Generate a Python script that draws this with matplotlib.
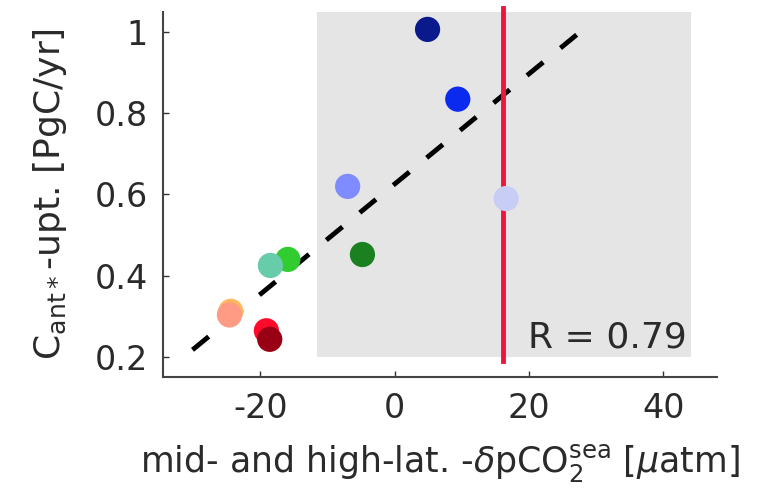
import matplotlib.pyplot as plt
import numpy as np
from matplotlib.patches import Rectangle

plt.rcParams['axes.unicode_minus'] = False

# model points (x: -dpCO2 sea, y: Cant uptake)
x_vals = [4.9, 9.4, -7.0, 16.6, -4.8, -15.9, -18.5, -24.4, -24.6, -19.1, -18.6]
y_vals = [1.007, 0.835, 0.62, 0.59, 0.452, 0.44, 0.425, 0.312, 0.303, 0.264, 0.243]
colors = ['#0a1a8c', '#0a2af0', '#7f8cff', '#c8cdf6', '#1a8020', '#30cc30',
          '#66ccaa', '#ffb860', '#ff9a85', '#ff0a2a', '#9a0014']

fit_x = [-30.1, 28.3]
fit_y = [0.217, 1.01]

obs_x = 16.2
obs_y = [0.19, 1.06]

shade_x = (-11.6, 44.2)
shade_y = (0.2, 1.05)

r_value = 0.79

fig = plt.figure(figsize=(7.63, 4.92), dpi=100)
ax = fig.add_axes([0.2136, 0.2337, 0.7261, 0.742])

ax.add_patch(Rectangle((shade_x[0], shade_y[0]), shade_x[1] - shade_x[0],
                       shade_y[1] - shade_y[0], facecolor='#e5e5e5',
                       edgecolor='none', zorder=0))
ax.plot(fit_x, fit_y, '--', color='black', linewidth=3.5, dashes=(4.3, 4.6), zorder=2)
ax.plot([obs_x, obs_x], obs_y, '-', color='#f0143c', linewidth=3.5, zorder=3,
        clip_on=False)
ax.scatter(x_vals, y_vals, s=330, c=colors, edgecolors='none', zorder=4)

ax.text(43.5, 0.206, f'R = {r_value}', fontsize=26, ha='right', va='bottom',
        color='#2a2a2a', zorder=5)

ax.set_xlim(-34.5, 48)
ax.set_ylim(0.15, 1.05)
ax.set_xticks([-20, 0, 20, 40])
ax.set_yticks([0.2, 0.4, 0.6, 0.8, 1.0])
ax.set_yticklabels(['0.2', '0.4', '0.6', '0.8', '1'])
ax.tick_params(direction='in', length=4, width=1, labelsize=24,
               colors='#333333', labelcolor='#2a2a2a', pad=11)
for s in ['top', 'right']:
    ax.spines[s].set_visible(False)
for s in ['left', 'bottom']:
    ax.spines[s].set_color('#444444')
    ax.spines[s].set_linewidth(1.5)

ax.set_xlabel(r'mid- and high-lat. -$\delta$pCO$_2^{\mathrm{sea}}$ [$\mu$atm]',
              fontsize=25, color='#2a2a2a', labelpad=12)
ax.set_ylabel(r'C$_{\mathrm{ant*}}$-upt. [PgC/yr]', fontsize=26,
              color='#2a2a2a', labelpad=18)

fig.savefig('out.png', dpi=100)
